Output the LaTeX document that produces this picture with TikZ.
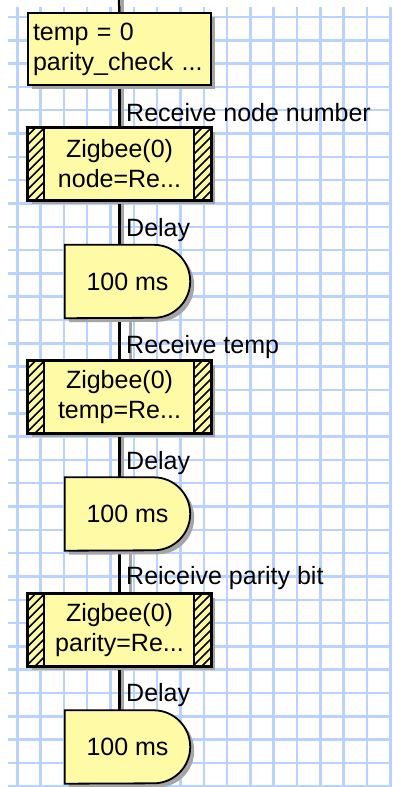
\documentclass[tikz,border=0pt]{standalone}
\usepackage{fontspec}
\setmainfont{Liberation Sans}
\usetikzlibrary{shadows,calc}
\definecolor{gridblue}{RGB}{185,210,255}
\definecolor{boxyellow}{RGB}{255,250,165}
\definecolor{shadowgray}{RGB}{165,165,165}
\tikzset{
  boxshadow/.style={drop shadow={shadow xshift=4pt, shadow yshift=-4pt, fill=shadowgray, opacity=1}},
  calcbox/.style={draw=black, line width=1.8pt, fill=boxyellow, boxshadow,
    minimum width=183pt, minimum height=72pt, inner sep=0pt,
    text width=173pt, align=left},
  zbbox/.style={draw=black, line width=1.8pt, fill=boxyellow, boxshadow,
    minimum width=183pt, minimum height=72pt, inner sep=0pt, align=center},
  delaybox/.style={minimum width=125pt, minimum height=73pt, inner sep=0pt},
  dshape/.style={draw=black, line width=1.8pt, fill=boxyellow, boxshadow},
  conn/.style={draw=black, line width=2.5pt},
  connshadow/.style={draw=shadowgray, line width=3pt},
  lbl/.style={anchor=west, inner sep=0pt},
  hatchline/.style={draw=black, line width=1.5pt},
}
\newcommand\zbhatch[1]{%
  \begin{scope}
    \clip (#1.north west) rectangle ($(#1.south west)+(17,0)$);
    \foreach \k in {0,...,11} {\draw[hatchline] ($(#1.north west)+(0,\k*9)$) -- ++(17,-17);}
  \end{scope}
  \begin{scope}
    \clip ($(#1.north east)+(-18,0)$) rectangle (#1.south east);
    \foreach \k in {0,...,11} {\draw[hatchline] ($(#1.north east)+(-18,\k*9)$) -- ++(18,-18);}
  \end{scope}
  \draw[line width=1.8pt] (#1.north west) rectangle (#1.south east);
  \draw[line width=1.8pt] ($(#1.north west)+(17,0)$) -- ($(#1.south west)+(17,0)$);
  \draw[line width=1.8pt] ($(#1.north east)+(-18,0)$) -- ($(#1.south east)+(-18,0)$);
}
\newcommand\dpath[1]{%
  \path[dshape] (#1.north west) -- ($(#1.north east)+(-36.5,0)$)
    arc[start angle=90, end angle=-90, radius=36.5pt] -- (#1.south west) -- cycle;
}
\begin{document}
\begin{tikzpicture}[x=1pt, y=-1pt, font=\fontsize{25}{30}\selectfont]
\useasboundingbox (0,0) rectangle (392,787);
\fill[white] (0,0) rectangle (392,787);
% grid
\begin{scope}
  \clip (8,7) rectangle (392,786);
  \foreach \i in {0,...,16} {\draw[gridblue, line width=2.5pt] (17.3+\i*23.31,0) -- (17.3+\i*23.31,787);}
  \foreach \j in {0,...,33} {\draw[gridblue, line width=2.5pt] (0,17+\j*23.31) -- (392,17+\j*23.31);}
\end{scope}
% coordinates
\coordinate (top) at (119,0);
\coordinate (bot) at (119,787);
% nodes (positions)
\path (119.5,49) node[calcbox] (init) {temp = 0\\parity\_check ...};
\path (119.5,164) node[zbbox] (zb1) {};
\path (127.5,281.5) node[delaybox] (d1) {};
\path (119.5,397) node[zbbox] (zb2) {};
\path (127.5,514) node[delaybox] (d2) {};
\path (119.5,630) node[zbbox] (zb3) {};
\path (127.5,747) node[delaybox] (d3) {};
% connectors (shadow first)
\foreach \a/\b in {top/init, init/zb1, zb1/d1, d1/zb2, zb2/d2, d2/zb3, zb3/d3, d3/bot} {
  \draw[connshadow] ($(\a |- \a.south)+(3,0)$) -- ($(\a |- \b.north)+(3,0)$);
}
\draw[conn] (top) -- (init.north);
\draw[conn] (init.south) -- (zb1.north);
\draw[conn] (zb1.south) -- (zb1.south |- d1.north);
\draw[conn] (zb1.south |- d1.south) -- (zb2.north);
\draw[conn] (zb2.south) -- (zb2.south |- d2.north);
\draw[conn] (zb2.south |- d2.south) -- (zb3.north);
\draw[conn] (zb3.south) -- (zb3.south |- d3.north);
\draw[conn] (zb3.south |- d3.south) -- (bot);
% redraw shapes on top
\path (119.5,49) node[calcbox] {temp = 0\\parity\_check ...};
\path (119.5,164) node[zbbox] {Zigbee(0)\\node=Re...};
\zbhatch{zb1}
\dpath{d1}
\node at (d1) {100 ms};
\path (119.5,397) node[zbbox] {Zigbee(0)\\temp=Re...};
\zbhatch{zb2}
\dpath{d2}
\node at (d2) {100 ms};
\path (119.5,630) node[zbbox] {Zigbee(0)\\parity=Re...};
\zbhatch{zb3}
\dpath{d3}
\node at (d3) {100 ms};
% labels
\node[lbl] (l1) at (126,113) {Receive node number};
\node[lbl] (l2) at (126,230) {Delay};
\node[lbl] (l3) at (126,347) {Receive temp};
\node[lbl] (l4) at (126,463) {Delay};
\node[lbl] (l5) at (126,578) {Reiceive parity bit};
\node[lbl] (l6) at (126,695) {Delay};
\end{tikzpicture}
\end{document}
